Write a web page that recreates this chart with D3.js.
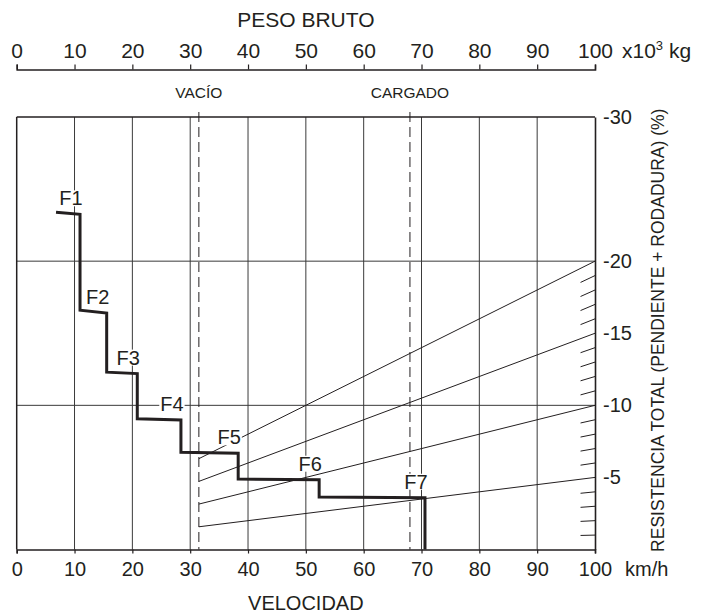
<!DOCTYPE html>
<html>
<head>
<meta charset="utf-8">
<script src="https://cdn.jsdelivr.net/npm/d3@7"></script>
<style>
  body { margin: 0; background: #fff; }
  svg { font-family: "Liberation Sans", Arial, Helvetica, sans-serif; }
</style>
</head>
<body>
<div class="chart"></div>
<script>
// ticks for both horizontal scales (speed below, gross weight above)
var speedTicks = [0, 10, 20, 30, 40, 50, 60, 70, 80, 90, 100];
var weightTicks = [0, 10, 20, 30, 40, 50, 60, 70, 80, 90, 100];
var resistanceTicks = [-30, -20, -15, -10, -5];
var gridResistance = [-10, -20];

// rimpull curve, one segment per gear
var gears = ["F1", "F2", "F3", "F4", "F5", "F6", "F7"];
var gearSpeedStart = [6.8, 10.95, 15.56, 20.85, 28.4, 38.3, 52.3];
var gearSpeedEnd = [10.95, 15.56, 20.85, 28.4, 38.3, 52.3, 70.6];
var gearResStart = [-23.4, -16.6, -12.3, -9.07, -6.74, -4.89, -3.64];
var gearResEnd = [-23.25, -16.4, -12.2, -8.98, -6.67, -4.84, -3.59];

// total resistance lines (%), drawn from empty weight to 100 t
var gradeLines = [-5, -10, -15, -20];
var gradeMinor = [-1, -2, -3, -4, -6, -7, -8, -9, -11, -12, -13, -14, -16, -17, -18, -19];
var emptyWeight = 31.5;
var loadedWeight = 68;

var width = 714;
var height = 616;

var svg = d3.select(".chart").append("svg")
    .attr("width", width)
    .attr("height", height);

var x = d3.scaleLinear().domain([0, 100]).range([16.7, 595]);
var y = d3.scaleLinear().domain([0, -30]).range([549.5, 117]);

var ink = "#231f20";

// grid
svg.append("g")
    .selectAll("line")
    .data(speedTicks.slice(1, -1))
    .enter().append("line")
    .attr("x1", function(d) { return x(d); })
    .attr("x2", function(d) { return x(d); })
    .attr("y1", y(-30))
    .attr("y2", y(0))
    .attr("stroke", "#3a3a3a")
    .attr("stroke-width", 1);

svg.append("g")
    .selectAll("line")
    .data(gridResistance)
    .enter().append("line")
    .attr("x1", x(0))
    .attr("x2", x(100))
    .attr("y1", function(d) { return y(d); })
    .attr("y2", function(d) { return y(d); })
    .attr("stroke", "#3a3a3a")
    .attr("stroke-width", 1);

// frame: left and top
svg.append("line")
    .attr("x1", x(0)).attr("x2", x(0))
    .attr("y1", y(-30)).attr("y2", y(0))
    .attr("stroke", ink).attr("stroke-width", 1.5);
svg.append("line")
    .attr("x1", x(0)).attr("x2", x(100))
    .attr("y1", y(-30)).attr("y2", y(-30))
    .attr("stroke", ink).attr("stroke-width", 1.5);

// empty / loaded weight markers
svg.append("g")
    .selectAll("line")
    .data([emptyWeight, loadedWeight])
    .enter().append("line")
    .attr("x1", function(d) { return x(d); })
    .attr("x2", function(d) { return x(d); })
    .attr("y1", y(-30) - 5)
    .attr("y2", y(0))
    .attr("stroke", ink)
    .attr("stroke-width", 1)
    .attr("stroke-dasharray", "10,5");

svg.append("g")
    .selectAll("text")
    .data([["VACÍO", emptyWeight], ["CARGADO", loadedWeight]])
    .enter().append("text")
    .attr("x", function(d) { return x(d[1]); })
    .attr("y", 98)
    .attr("text-anchor", "middle")
    .attr("font-size", 15.5)
    .attr("fill", ink)
    .text(function(d) { return d[0]; });

// resistance lines: resistance scales with gross weight
var line = d3.line()
    .x(function(d) { return x(d[0]); })
    .y(function(d) { return y(d[1]); });

svg.append("g")
    .selectAll("path")
    .data(gradeLines)
    .enter().append("path")
    .attr("d", function(r) { return line([[emptyWeight, r * emptyWeight / 100], [100, r]]); })
    .attr("fill", "none")
    .attr("stroke", ink)
    .attr("stroke-width", 1);

svg.append("g")
    .selectAll("path")
    .data(gradeMinor)
    .enter().append("path")
    .attr("d", function(r) { return line([[97.5, r * 97.5 / 100], [100, r]]); })
    .attr("fill", "none")
    .attr("stroke", ink)
    .attr("stroke-width", 1);

// axes
var topAxis = d3.axisTop(x)
    .tickValues(weightTicks)
    .tickSize(5)
    .tickSizeOuter(5)
    .tickPadding(7)
    .tickFormat(function(d) { return String(d); });

var gTop = svg.append("g")
    .attr("transform", "translate(0,69.5)")
    .call(topAxis);

var bottomAxis = d3.axisBottom(x)
    .tickValues(speedTicks)
    .tickSize(4)
    .tickSizeOuter(4)
    .tickPadding(8)
    .tickFormat(function(d) { return String(d); });

var gBottom = svg.append("g")
    .attr("transform", "translate(0," + y(0) + ")")
    .call(bottomAxis);

var rightAxis = d3.axisRight(y)
    .tickValues(resistanceTicks)
    .tickSize(0)
    .tickSizeOuter(0)
    .tickPadding(8)
    .tickFormat(function(d) { return String(d); });

var gRight = svg.append("g")
    .attr("transform", "translate(" + x(100) + ",0)")
    .call(rightAxis);

[gTop, gBottom, gRight].forEach(function(g) {
    g.attr("font-family", null).attr("font-size", null);
    g.selectAll("text").attr("font-size", 20).attr("fill", ink);
    g.selectAll("line").attr("stroke", ink).attr("stroke-width", 1.2);
    g.select(".domain").attr("stroke", ink).attr("stroke-width", 1.6);
});
gTop.selectAll("text").attr("font-size", 21);

// axis titles
svg.append("text")
    .attr("x", x(50)).attr("y", 27)
    .attr("text-anchor", "middle")
    .attr("font-size", 21)
    .attr("fill", ink)
    .text("PESO BRUTO");

svg.append("text")
    .attr("x", x(50)).attr("y", 610)
    .attr("text-anchor", "middle")
    .attr("font-size", 20)
    .attr("fill", ink)
    .text("VELOCIDAD");

var unitTop = svg.append("text")
    .attr("x", 622).attr("y", 57.5)
    .attr("font-size", 21)
    .attr("fill", ink);
unitTop.append("tspan").text("x10");
unitTop.append("tspan").attr("font-size", 13).attr("dy", -8).text("3");
unitTop.append("tspan").attr("dy", 8).text(" kg");

svg.append("text")
    .attr("x", 625).attr("y", 576)
    .attr("font-size", 20)
    .attr("fill", ink)
    .text("km/h");

svg.append("text")
    .attr("transform", "translate(664," + ((y(-30) + y(0)) / 2 - 3) + ") rotate(-90)")
    .attr("text-anchor", "middle")
    .attr("font-size", 17.5)
    .attr("fill", ink)
    .text("RESISTENCIA TOTAL (PENDIENTE + RODADURA) (%)");

// rimpull step curve
var pts = [];
gears.forEach(function(g, i) {
    pts.push([gearSpeedStart[i], gearResStart[i]]);
    pts.push([gearSpeedEnd[i], gearResEnd[i]]);
});
pts.push([gearSpeedEnd[gears.length - 1], 0]);

svg.append("path")
    .attr("d", line(pts))
    .attr("fill", "none")
    .attr("stroke", ink)
    .attr("stroke-width", 3)
    .attr("stroke-linejoin", "miter");

// gear labels on a white patch
var labels = svg.append("g")
    .selectAll("g")
    .data(gears)
    .enter().append("g");

labels.append("text")
    .attr("x", function(d, i) { return x(gearSpeedEnd[i]) - 9; })
    .attr("y", function(d, i) { return y(gearResEnd[i]) - 9; })
    .attr("text-anchor", "middle")
    .attr("font-size", 20)
    .attr("fill", ink)
    .text(function(d) { return d; });

labels.each(function() {
    var g = d3.select(this);
    var b = g.select("text").node().getBBox();
    g.insert("rect", "text")
        .attr("x", b.x - 1)
        .attr("y", b.y + 3)
        .attr("width", b.width + 2)
        .attr("height", b.height - 6)
        .attr("fill", "#fff");
});
</script>
</body>
</html>
